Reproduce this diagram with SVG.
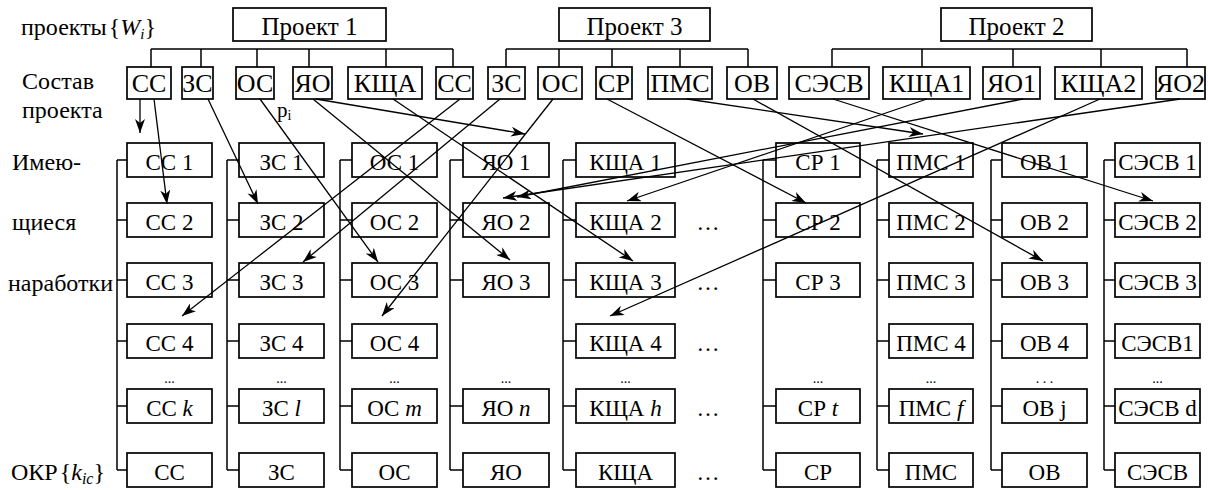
<svg xmlns="http://www.w3.org/2000/svg" width="1208" height="490" viewBox="0 0 1208 490" font-family="'Liberation Serif', 'Times New Roman', 'DejaVu Serif', serif">
<defs>
<style>
.b{fill:#fff;stroke:#000;stroke-width:1.7}
text{font-family:'Liberation Serif','Times New Roman','DejaVu Serif',serif;fill:#000}
.c{text-anchor:middle}
.g{font-size:23px}
.m{font-size:26px}
.p{font-size:25px}
.l{font-size:24px}
.d{font-size:14px}
.i{font-style:italic}
.ln{stroke:#000;stroke-width:1.5;fill:none}
.ar{stroke:#000;stroke-width:1.3;fill:none;marker-end:url(#ah)}
</style>
<marker id="ah" markerUnits="userSpaceOnUse" markerWidth="14" markerHeight="10" refX="14" refY="5" orient="auto"><path d="M0,0 L14,5 L0,10 L4,5 Z" fill="#000"/></marker>
</defs>
<rect width="1208" height="490" fill="#fff"/>

<g id="labels">
<text class="l" x="21" y="35">проекты<tspan dx="2">{</tspan><tspan class="i">W</tspan><tspan class="i" font-size="15" dy="4">i</tspan><tspan dy="-4">}</tspan></text>
<text class="l" x="22" y="89">Состав</text>
<text class="l" x="22" y="118">проекта</text>
<text x="277" y="117" font-size="21">p<tspan font-size="14" dy="3">i</tspan></text>
<text class="l" x="12" y="170">Имею-</text>
<text class="l" x="12" y="230">щиеся</text>
<text class="l" x="8" y="291">наработки</text>
<text class="l" x="11" y="480">ОКР<tspan dx="2">{</tspan><tspan class="i">k</tspan><tspan class="i" font-size="16" dy="4">ic</tspan><tspan dy="-4">}</tspan></text>
<text class="g c" x="708" y="230">…</text>
<text class="g c" x="708" y="290">…</text>
<text class="g c" x="708" y="351">…</text>
<text class="g c" x="708" y="416">…</text>
<text class="g c" x="708" y="480">…</text>
<text class="d c" x="169.5" y="383">...</text>
<text class="d c" x="281.5" y="383">...</text>
<text class="d c" x="394.5" y="383">...</text>
<text class="d c" x="506" y="383">...</text>
<text class="d c" x="625.5" y="383">...</text>
<text class="d c" x="818" y="383">...</text>
<text class="d c" x="931" y="383">...</text>
<text class="d c" x="1044.5" y="383">. . .</text>
<text class="d c" x="1157.5" y="383">...</text>
</g>

<g id="proj1"><rect class="b" x="233" y="8" width="153" height="33"/><text class="p c" x="309.5" y="35">Проект 1</text></g>
<g id="proj3"><rect class="b" x="559" y="8" width="151" height="33"/><text class="p c" x="634.5" y="35">Проект 3</text></g>
<g id="proj2"><rect class="b" x="941" y="8" width="151" height="33"/><text class="p c" x="1016.5" y="35">Проект 2</text></g>

<g id="p1-ss"><rect class="b" x="127" y="67" width="44" height="32"/><text class="m c" x="149" y="92">СС</text></g>
<g id="p1-zs"><rect class="b" x="182" y="67" width="31" height="32"/><text class="m c" x="197.5" y="92">ЗС</text></g>
<g id="p1-os"><rect class="b" x="236" y="67" width="38" height="32"/><text class="m c" x="255" y="92">ОС</text></g>
<g id="p1-yao"><rect class="b" x="293" y="67" width="39" height="32"/><text class="m c" x="312.5" y="92">ЯО</text></g>
<g id="p1-kscha"><rect class="b" x="348" y="67" width="74" height="32"/><text class="m c" x="385" y="92">КЩА</text></g>
<g id="p1-ss2"><rect class="b" x="436" y="67" width="37" height="32"/><text class="m c" x="454.5" y="92">СС</text></g>
<g id="p3-zs"><rect class="b" x="488" y="67" width="37" height="32"/><text class="m c" x="506.5" y="92">ЗС</text></g>
<g id="p3-os"><rect class="b" x="538" y="67" width="44" height="32"/><text class="m c" x="560" y="92">ОС</text></g>
<g id="p3-sr"><rect class="b" x="596" y="67" width="36" height="32"/><text class="m c" x="614" y="92">СР</text></g>
<g id="p3-pms"><rect class="b" x="648" y="67" width="64" height="32"/><text class="m c" x="680" y="92">ПМС</text></g>
<g id="p3-ov"><rect class="b" x="727" y="67" width="50" height="32"/><text class="m c" x="752" y="92">ОВ</text></g>
<g id="p2-sesv"><rect class="b" x="789" y="67" width="80" height="32"/><text class="m c" x="829" y="92">СЭСВ</text></g>
<g id="p2-kscha1"><rect class="b" x="883" y="67" width="87" height="32"/><text class="m c" x="926.5" y="92">КЩА1</text></g>
<g id="p2-yao1"><rect class="b" x="983" y="67" width="57" height="32"/><text class="m c" x="1011.5" y="92">ЯО1</text></g>
<g id="p2-kscha2"><rect class="b" x="1055" y="67" width="87" height="32"/><text class="m c" x="1098.5" y="92">КЩА2</text></g>
<g id="p2-yao2"><rect class="b" x="1156" y="67" width="49" height="32"/><text class="m c" x="1180.5" y="92">ЯО2</text></g>

<g id="ss-1"><rect class="b" x="127" y="143" width="85" height="34"/><text class="g c" x="169.5" y="170">СС 1</text></g>
<g id="ss-2"><rect class="b" x="127" y="203" width="85" height="34"/><text class="g c" x="169.5" y="230">СС 2</text></g>
<g id="ss-3"><rect class="b" x="127" y="263" width="85" height="34"/><text class="g c" x="169.5" y="290">СС 3</text></g>
<g id="ss-4"><rect class="b" x="127" y="324" width="85" height="34"/><text class="g c" x="169.5" y="351">СС 4</text></g>
<g id="ss-k"><rect class="b" x="127" y="389" width="85" height="34"/><text class="g c" x="169.5" y="416">СС <tspan class="i">k</tspan></text></g>
<g id="ss-okr"><rect class="b" x="127" y="453" width="85" height="34"/><text class="g c" x="169.5" y="480">СС</text></g>

<g id="zs-1"><rect class="b" x="239" y="143" width="85" height="34"/><text class="g c" x="281.5" y="170">ЗС 1</text></g>
<g id="zs-2"><rect class="b" x="239" y="203" width="85" height="34"/><text class="g c" x="281.5" y="230">ЗС 2</text></g>
<g id="zs-3"><rect class="b" x="239" y="263" width="85" height="34"/><text class="g c" x="281.5" y="290">ЗС 3</text></g>
<g id="zs-4"><rect class="b" x="239" y="324" width="85" height="34"/><text class="g c" x="281.5" y="351">ЗС 4</text></g>
<g id="zs-l"><rect class="b" x="239" y="389" width="85" height="34"/><text class="g c" x="281.5" y="416">ЗС <tspan class="i">l</tspan></text></g>
<g id="zs-okr"><rect class="b" x="239" y="453" width="85" height="34"/><text class="g c" x="281.5" y="480">ЗС</text></g>

<g id="os-1"><rect class="b" x="352" y="143" width="85" height="34"/><text class="g c" x="394.5" y="170">ОС 1</text></g>
<g id="os-2"><rect class="b" x="352" y="203" width="85" height="34"/><text class="g c" x="394.5" y="230">ОС 2</text></g>
<g id="os-3"><rect class="b" x="352" y="263" width="85" height="34"/><text class="g c" x="394.5" y="290">ОС 3</text></g>
<g id="os-4"><rect class="b" x="352" y="324" width="85" height="34"/><text class="g c" x="394.5" y="351">ОС 4</text></g>
<g id="os-m"><rect class="b" x="352" y="389" width="85" height="34"/><text class="g c" x="394.5" y="416">ОС <tspan class="i">m</tspan></text></g>
<g id="os-okr"><rect class="b" x="352" y="453" width="85" height="34"/><text class="g c" x="394.5" y="480">ОС</text></g>

<g id="yao-1"><rect class="b" x="463" y="143" width="86" height="34"/><text class="g c" x="506" y="170">ЯО 1</text></g>
<g id="yao-2"><rect class="b" x="463" y="203" width="86" height="34"/><text class="g c" x="506" y="230">ЯО 2</text></g>
<g id="yao-3"><rect class="b" x="463" y="263" width="86" height="34"/><text class="g c" x="506" y="290">ЯО 3</text></g>
<g id="yao-n"><rect class="b" x="463" y="389" width="86" height="34"/><text class="g c" x="506" y="416">ЯО <tspan class="i">n</tspan></text></g>
<g id="yao-okr"><rect class="b" x="463" y="453" width="86" height="34"/><text class="g c" x="506" y="480">ЯО</text></g>

<g id="kscha-1"><rect class="b" x="576" y="143" width="99" height="34"/><text class="g c" x="625.5" y="170">КЩА 1</text></g>
<g id="kscha-2"><rect class="b" x="576" y="203" width="99" height="34"/><text class="g c" x="625.5" y="230">КЩА 2</text></g>
<g id="kscha-3"><rect class="b" x="576" y="263" width="99" height="34"/><text class="g c" x="625.5" y="290">КЩА 3</text></g>
<g id="kscha-4"><rect class="b" x="576" y="324" width="99" height="34"/><text class="g c" x="625.5" y="351">КЩА 4</text></g>
<g id="kscha-h"><rect class="b" x="576" y="389" width="99" height="34"/><text class="g c" x="625.5" y="416">КЩА <tspan class="i">h</tspan></text></g>
<g id="kscha-okr"><rect class="b" x="576" y="453" width="99" height="34"/><text class="g c" x="625.5" y="480">КЩА</text></g>

<g id="sr-1"><rect class="b" x="776" y="143" width="84" height="34"/><text class="g c" x="818" y="170">СР 1</text></g>
<g id="sr-2"><rect class="b" x="776" y="203" width="84" height="34"/><text class="g c" x="818" y="230">СР 2</text></g>
<g id="sr-3"><rect class="b" x="776" y="263" width="84" height="34"/><text class="g c" x="818" y="290">СР 3</text></g>
<g id="sr-t"><rect class="b" x="776" y="389" width="84" height="34"/><text class="g c" x="818" y="416">СР <tspan class="i">t</tspan></text></g>
<g id="sr-okr"><rect class="b" x="776" y="453" width="84" height="34"/><text class="g c" x="818" y="480">СР</text></g>

<g id="pms-1"><rect class="b" x="889" y="143" width="84" height="34"/><text class="g c" x="931" y="170">ПМС 1</text></g>
<g id="pms-2"><rect class="b" x="889" y="203" width="84" height="34"/><text class="g c" x="931" y="230">ПМС 2</text></g>
<g id="pms-3"><rect class="b" x="889" y="263" width="84" height="34"/><text class="g c" x="931" y="290">ПМС 3</text></g>
<g id="pms-4"><rect class="b" x="889" y="324" width="84" height="34"/><text class="g c" x="931" y="351">ПМС 4</text></g>
<g id="pms-f"><rect class="b" x="889" y="389" width="84" height="34"/><text class="g c" x="931" y="416">ПМС <tspan class="i">f</tspan></text></g>
<g id="pms-okr"><rect class="b" x="889" y="453" width="84" height="34"/><text class="g c" x="931" y="480">ПМС</text></g>

<g id="ov-1"><rect class="b" x="1002" y="143" width="85" height="34"/><text class="g c" x="1044.5" y="170">ОВ 1</text></g>
<g id="ov-2"><rect class="b" x="1002" y="203" width="85" height="34"/><text class="g c" x="1044.5" y="230">ОВ 2</text></g>
<g id="ov-3"><rect class="b" x="1002" y="263" width="85" height="34"/><text class="g c" x="1044.5" y="290">ОВ 3</text></g>
<g id="ov-4"><rect class="b" x="1002" y="324" width="85" height="34"/><text class="g c" x="1044.5" y="351">ОВ 4</text></g>
<g id="ov-j"><rect class="b" x="1002" y="389" width="85" height="34"/><text class="g c" x="1044.5" y="416">ОВ j</text></g>
<g id="ov-okr"><rect class="b" x="1002" y="453" width="85" height="34"/><text class="g c" x="1044.5" y="480">ОВ</text></g>

<g id="sesv-1"><rect class="b" x="1115" y="143" width="85" height="34"/><text class="g c" x="1157.5" y="170">СЭСВ 1</text></g>
<g id="sesv-2"><rect class="b" x="1115" y="203" width="85" height="34"/><text class="g c" x="1157.5" y="230">СЭСВ 2</text></g>
<g id="sesv-3"><rect class="b" x="1115" y="263" width="85" height="34"/><text class="g c" x="1157.5" y="290">СЭСВ 3</text></g>
<g id="sesv-4"><rect class="b" x="1115" y="324" width="85" height="34"/><text class="g c" x="1157.5" y="351">СЭСВ1</text></g>
<g id="sesv-d"><rect class="b" x="1115" y="389" width="85" height="34"/><text class="g c" x="1157.5" y="416">СЭСВ d</text></g>
<g id="sesv-okr"><rect class="b" x="1115" y="453" width="85" height="34"/><text class="g c" x="1157.5" y="480">СЭСВ</text></g>

<g id="connectors">
<path class="ln" d="M151,49 H453 M151,49 V67 M201,49 V67 M257,49 V67 M309,49 V67 M386,49 V67 M453,49 V67"/>
<path class="ln" d="M506,49 H748 M506,49 V67 M559,49 V67 M612,49 V67 M680,49 V67 M748,49 V67"/>
<path class="ln" d="M832,49 H1187 M832,49 V67 M922,49 V67 M1013,49 V67 M1101,49 V67 M1187,49 V67"/>
<path class="ln" d="M117,160 V470 M117,160 H127 M117,220 H127 M117,280 H127 M117,341 H127 M117,406 H127 M117,470 H127"/>
<path class="ln" d="M227,160 V470 M227,160 H239 M227,220 H239 M227,280 H239 M227,341 H239 M227,406 H239 M227,470 H239"/>
<path class="ln" d="M340,160 V470 M340,160 H352 M340,220 H352 M340,280 H352 M340,341 H352 M340,406 H352 M340,470 H352"/>
<path class="ln" d="M450,160 V470 M450,160 H463 M450,220 H463 M450,280 H463 M450,406 H463 M450,470 H463"/>
<path class="ln" d="M563,160 V470 M563,160 H576 M563,220 H576 M563,280 H576 M563,341 H576 M563,406 H576 M563,470 H576"/>
<path class="ln" d="M763,160 V470 M763,160 H776 M763,220 H776 M763,280 H776 M763,406 H776 M763,470 H776"/>
<path class="ln" d="M877,160 V470 M877,160 H889 M877,220 H889 M877,280 H889 M877,341 H889 M877,406 H889 M877,470 H889"/>
<path class="ln" d="M991,160 V470 M991,160 H1002 M991,220 H1002 M991,280 H1002 M991,341 H1002 M991,406 H1002 M991,470 H1002"/>
<path class="ln" d="M1104,160 V470 M1104,160 H1115 M1104,220 H1115 M1104,280 H1115 M1104,341 H1115 M1104,406 H1115 M1104,470 H1115"/>
<path class="ar" d="M140,99 L140,133"/>
<path class="ar" d="M154,99 L167,204"/>
<path class="ar" d="M208,99 L258,204"/>
<path class="ar" d="M260,99 L378,262"/>
<path class="ar" d="M316,99 L525,134"/>
<path class="ar" d="M313,99 L510,260"/>
<path class="ar" d="M393,99 L633,261"/>
<path class="ar" d="M460,99 L182,316"/>
<path class="ar" d="M500,99 L303,262"/>
<path class="ar" d="M553,99 L382,316"/>
<path class="ar" d="M607,99 L806,203"/>
<path class="ar" d="M687,99 L923,134"/>
<path class="ar" d="M753,99 L1043,261"/>
<path class="ar" d="M833,99 L1153,201"/>
<path class="ar" d="M927,99 L627,201"/>
<path class="ar" d="M1023,99 L517,197"/>
<path class="ar" d="M1180,99 L503,198"/>
<path class="ar" d="M1100,99 L610,316"/>
</g>
</svg>
